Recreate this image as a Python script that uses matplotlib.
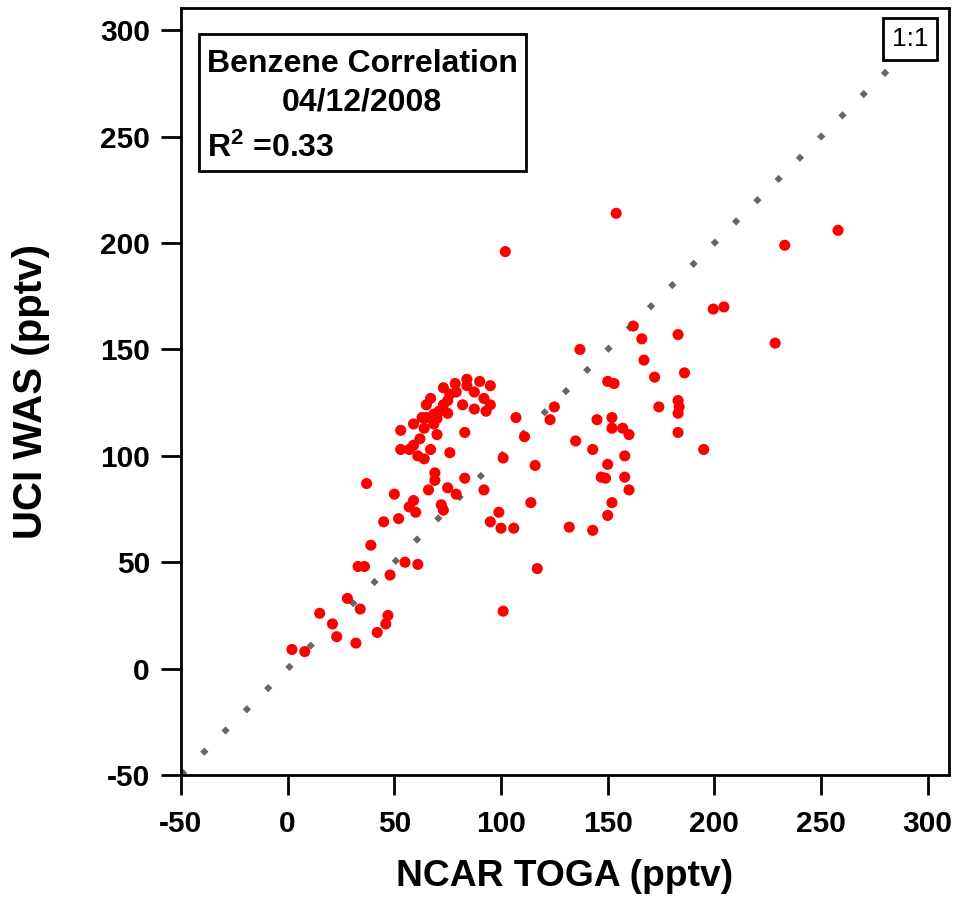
import matplotlib
matplotlib.use("Agg")
import matplotlib.pyplot as plt
from matplotlib.patches import Rectangle

plt.rcParams['font.family'] = ['Liberation Sans', 'DejaVu Sans']
plt.rcParams['font.weight'] = 'bold'
plt.rcParams['axes.unicode_minus'] = False
plt.rcParams['mathtext.fontset'] = 'custom'
plt.rcParams['mathtext.rm'] = 'Liberation Sans:bold'
plt.rcParams['mathtext.default'] = 'rm'

# NCAR TOGA benzene (pptv)
toga = [2, 8, 15, 21, 23, 32, 28, 34, 42, 46, 47, 39, 33, 36, 55, 61, 48, 101,
        37, 50, 59, 57, 60, 52, 45,
        154, 102, 258, 233, 199.5, 204.5, 162, 183, 166, 228.5, 137, 167, 186, 172,
        150, 153, 183, 183.5, 183, 174, 145, 152, 152, 157, 160, 183, 125, 123, 135,
        143, 195, 158, 150, 147, 149, 158, 160, 152, 150, 132, 143, 117, 114, 116,
        111, 107, 101, 99, 95, 100, 106, 92, 83, 83, 76, 75, 79, 69, 69, 66, 72, 73,
        73, 78.5, 84, 84, 90, 95, 87.5, 92, 95, 93, 87.5, 82, 67, 65, 63, 59, 68.5,
        70, 64, 62, 67, 59, 61, 64, 53, 53, 57, 75, 76, 73, 71, 75, 68.5, 79, 70, 65]
# UCI WAS benzene (pptv)
was = [9, 8, 26, 21, 15, 12, 33, 28, 17, 21, 25, 58, 48, 48, 50, 49, 44, 27,
       87, 82, 79, 76, 73.5, 70.5, 69,
       214, 196, 206, 199, 169, 170, 161, 157, 155, 153, 150, 145, 139, 137,
       135, 134, 126, 123, 120, 123, 117, 118, 113, 113, 110, 111, 123, 117, 107,
       103, 103, 100, 96, 90, 89.5, 90, 84, 78, 72, 66.5, 65, 47, 78, 95.5,
       109, 118, 99, 73.5, 69, 66, 66, 84, 89.5, 111, 101.5, 85, 82, 92, 88.5, 84, 77, 74.5,
       132, 134, 136, 133, 135, 133, 130, 127, 124, 121, 122, 124, 127, 124, 118, 115, 115,
       110, 113, 108, 103, 105, 100, 98.6, 112, 103, 103, 126, 129, 124, 121, 120, 119.6, 130, 117.6, 118]

one_to_one = [-50, 290]
ticks = [-50, 0, 50, 100, 150, 200, 250, 300]

fig = plt.figure(figsize=(9.61, 9.01), dpi=100)
ax = fig.add_axes([181/961, 126/901, 768/961, 767/901])

# 1:1 line, square dots every ~10 units
ax.plot(one_to_one, one_to_one, color='#666666', lw=4.2,
        dashes=(1.0, 4.15), dash_capstyle='butt', zorder=2)
ax.scatter(toga, was, s=64, color='#ff0000', edgecolors='none', zorder=3)

ax.set_xlim(-50, 310)
ax.set_ylim(-50, 310.5)
ax.set_xticks(ticks)
ax.set_yticks(ticks)
for sp in ax.spines.values():
    sp.set_linewidth(2)
ax.tick_params(direction='out', length=14.4, width=2, labelsize=21.5, pad=8)
ax.tick_params(axis='x', pad=11)
for lab in ax.get_xticklabels() + ax.get_yticklabels():
    lab.set_fontweight('bold')

ax.set_xlabel('NCAR TOGA (pptv)', fontsize=26.8, fontweight='bold')
ax.set_ylabel('UCI WAS (pptv)', fontsize=29, fontweight='bold')
ax.xaxis.set_label_coords(0.5, -0.11)
ax.yaxis.set_label_coords(-0.171, 0.5)

# info box
ax.add_patch(Rectangle((0.0234, 0.787), 0.4258, 0.179, transform=ax.transAxes,
                       fill=False, lw=2, edgecolor='black', zorder=4))
ax.text(0.236, 0.917, 'Benzene Correlation', transform=ax.transAxes,
        ha='center', va='baseline', fontsize=23, fontweight='bold')
ax.text(0.236, 0.867, '04/12/2008', transform=ax.transAxes,
        ha='center', va='baseline', fontsize=23, fontweight='bold')
ax.text(0.034, 0.806, 'R$^{2}$ =0.33', transform=ax.transAxes,
        ha='left', va='baseline', fontsize=23, fontweight='bold')

ax.text(0.973, 0.975, '1:1', transform=ax.transAxes, ha='right', va='top',
        fontsize=19, fontweight='normal', zorder=5,
        bbox=dict(boxstyle='square,pad=0.33', facecolor='white', edgecolor='black', lw=2))

fig.savefig('out.png', dpi=100)
